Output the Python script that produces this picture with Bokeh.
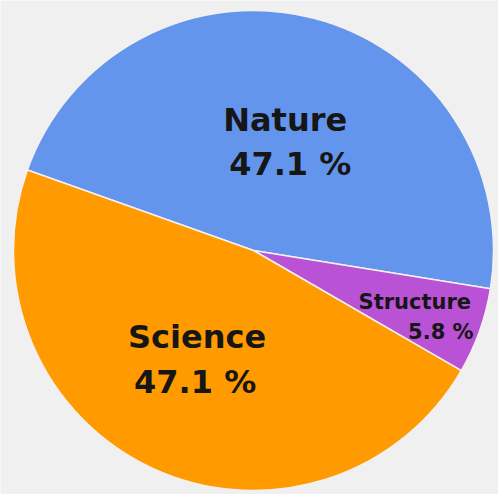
import math
from bokeh.plotting import figure
from bokeh.models import Range1d, ColumnDataSource
from bokeh.core.properties import value
from bokeh.embed import file_html
from bokeh.resources import INLINE

# ---- data ----
labels = ["Nature", "Structure", "Science"]
shares = [47.1, 5.8, 47.1]
pct_labels = ["47.1 %", "5.8 %", "47.1 %"]

# ---- style ----
colors = ["#6495ED", "#BA52D6", "#FF9A00"]
W, H = 498, 494
cx, cy, R = 253, 494 - 250, 240
start_deg = 160.4  # Nature/Science boundary, going clockwise
label_r = [0.465, 0.78, 0.50]
name_size = ["32px", "21px", "32px"]
x_off_name = [-2, -13, 1]
x_off_pct = [3, 13, -1]
y_gap = [22, 15, 22.5]
y_shift = [0, -4, 0]
x_shift = [6, -2, -7]

total = sum(shares)
starts, ends, lx, ly = [], [], [], []
a = start_deg
for i, s in enumerate(shares):
    span = s / total * 360.0
    b = a - span
    starts.append(math.radians(a))
    ends.append(math.radians(b))
    mid = math.radians((a + b) / 2)
    lx.append(cx + label_r[i] * R * math.cos(mid) + x_shift[i])
    ly.append(cy + label_r[i] * R * math.sin(mid) + y_shift[i])
    a = b

p = figure(width=W, height=H, x_range=Range1d(0, W), y_range=Range1d(0, H),
           output_backend="svg", toolbar_location=None, min_border=0)
p.axis.visible = False
p.grid.visible = False
p.outline_line_color = None
p.background_fill_color = "#F0F0F0"
p.border_fill_color = "#F0F0F0"

src = ColumnDataSource(dict(start=starts, end=ends, color=colors))
p.wedge(x=cx, y=cy, radius=R, start_angle="start", end_angle="end",
        direction="clock", fill_color="color", line_color="#F4F0F0",
        line_width=1.5, source=src)

for i in range(len(labels)):
    p.text(x=[lx[i]], y=[ly[i]], text=[labels[i]], x_offset=x_off_name[i],
           y_offset=-y_gap[i], text_font=value("DejaVu Sans"),
           text_font_style="bold", text_font_size=name_size[i],
           text_align="center", text_baseline="middle", text_color="#161616")
    p.text(x=[lx[i]], y=[ly[i]], text=[pct_labels[i]], x_offset=x_off_pct[i],
           y_offset=y_gap[i], text_font=value("DejaVu Sans"),
           text_font_style="bold", text_font_size=name_size[i],
           text_align="center", text_baseline="middle", text_color="#161616")

open("out.html", "w").write(file_html(p, INLINE))
